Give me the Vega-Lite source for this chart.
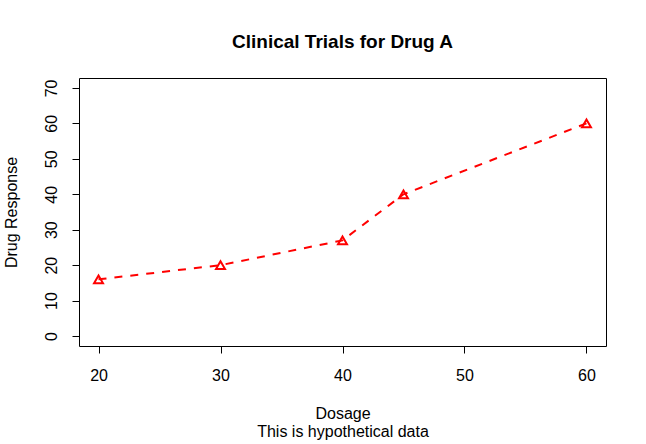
{
  "$schema": "https://vega.github.io/schema/vega-lite/v6.json",
  "width": 527,
  "height": 268,
  "autosize": {"type": "none"},
  "padding": {"left": 79, "top": 78, "right": 40, "bottom": 98},
  "background": "white",
  "config": {
    "font": "Liberation Sans",
    "view": {"stroke": "black", "strokeWidth": 1},
    "axis": {
      "grid": false,
      "domain": false,
      "tickColor": "black",
      "tickSize": 7,
      "tickWidth": 1,
      "labelFont": "Liberation Sans",
      "labelFontSize": 16,
      "labelColor": "black",
      "titleFont": "Liberation Sans",
      "titleFontSize": 16,
      "titleFontWeight": "normal",
      "titleColor": "black"
    }
  },
  "title": {
    "text": "Clinical Trials for Drug A",
    "font": "Liberation Sans",
    "fontSize": 19,
    "fontWeight": "bold",
    "color": "black",
    "anchor": "middle",
    "baseline": "alphabetic",
    "offset": 11
  },
  "data": {
    "values": [
      {"dose": 20, "drugA": 16},
      {"dose": 30, "drugA": 20},
      {"dose": 40, "drugA": 27},
      {"dose": 45, "drugA": 40},
      {"dose": 60, "drugA": 60}
    ]
  },
  "encoding": {
    "x": {
      "field": "dose",
      "type": "quantitative",
      "scale": {"domain": [18.4, 61.6], "nice": false, "zero": false},
      "axis": {
        "values": [20, 30, 40, 50, 60],
        "labelPadding": 14,
        "labelFlush": false,
        "title": ["Dosage", "This is hypothetical data"],
        "titleLineHeight": 18,
        "titlePadding": 22,
        "titleBaseline": "top"
      }
    },
    "y": {
      "field": "drugA",
      "type": "quantitative",
      "scale": {"domain": [-2.8, 72.8], "nice": false, "zero": false},
      "axis": {
        "values": [0, 10, 20, 30, 40, 50, 60, 70],
        "labelAngle": -90,
        "labelAlign": "center",
        "labelBaseline": "alphabetic",
        "labelPadding": 16,
        "labelFlush": false,
        "title": "Drug Response",
        "titlePadding": 24
      }
    }
  },
  "layer": [
    {
      "mark": {"type": "line", "color": "red", "strokeWidth": 2, "strokeDash": [8, 8]}
    },
    {
      "mark": {"type": "point", "shape": "triangle-up", "filled": false, "color": "red", "strokeWidth": 2, "size": 80, "opacity": 1}
    }
  ]
}
